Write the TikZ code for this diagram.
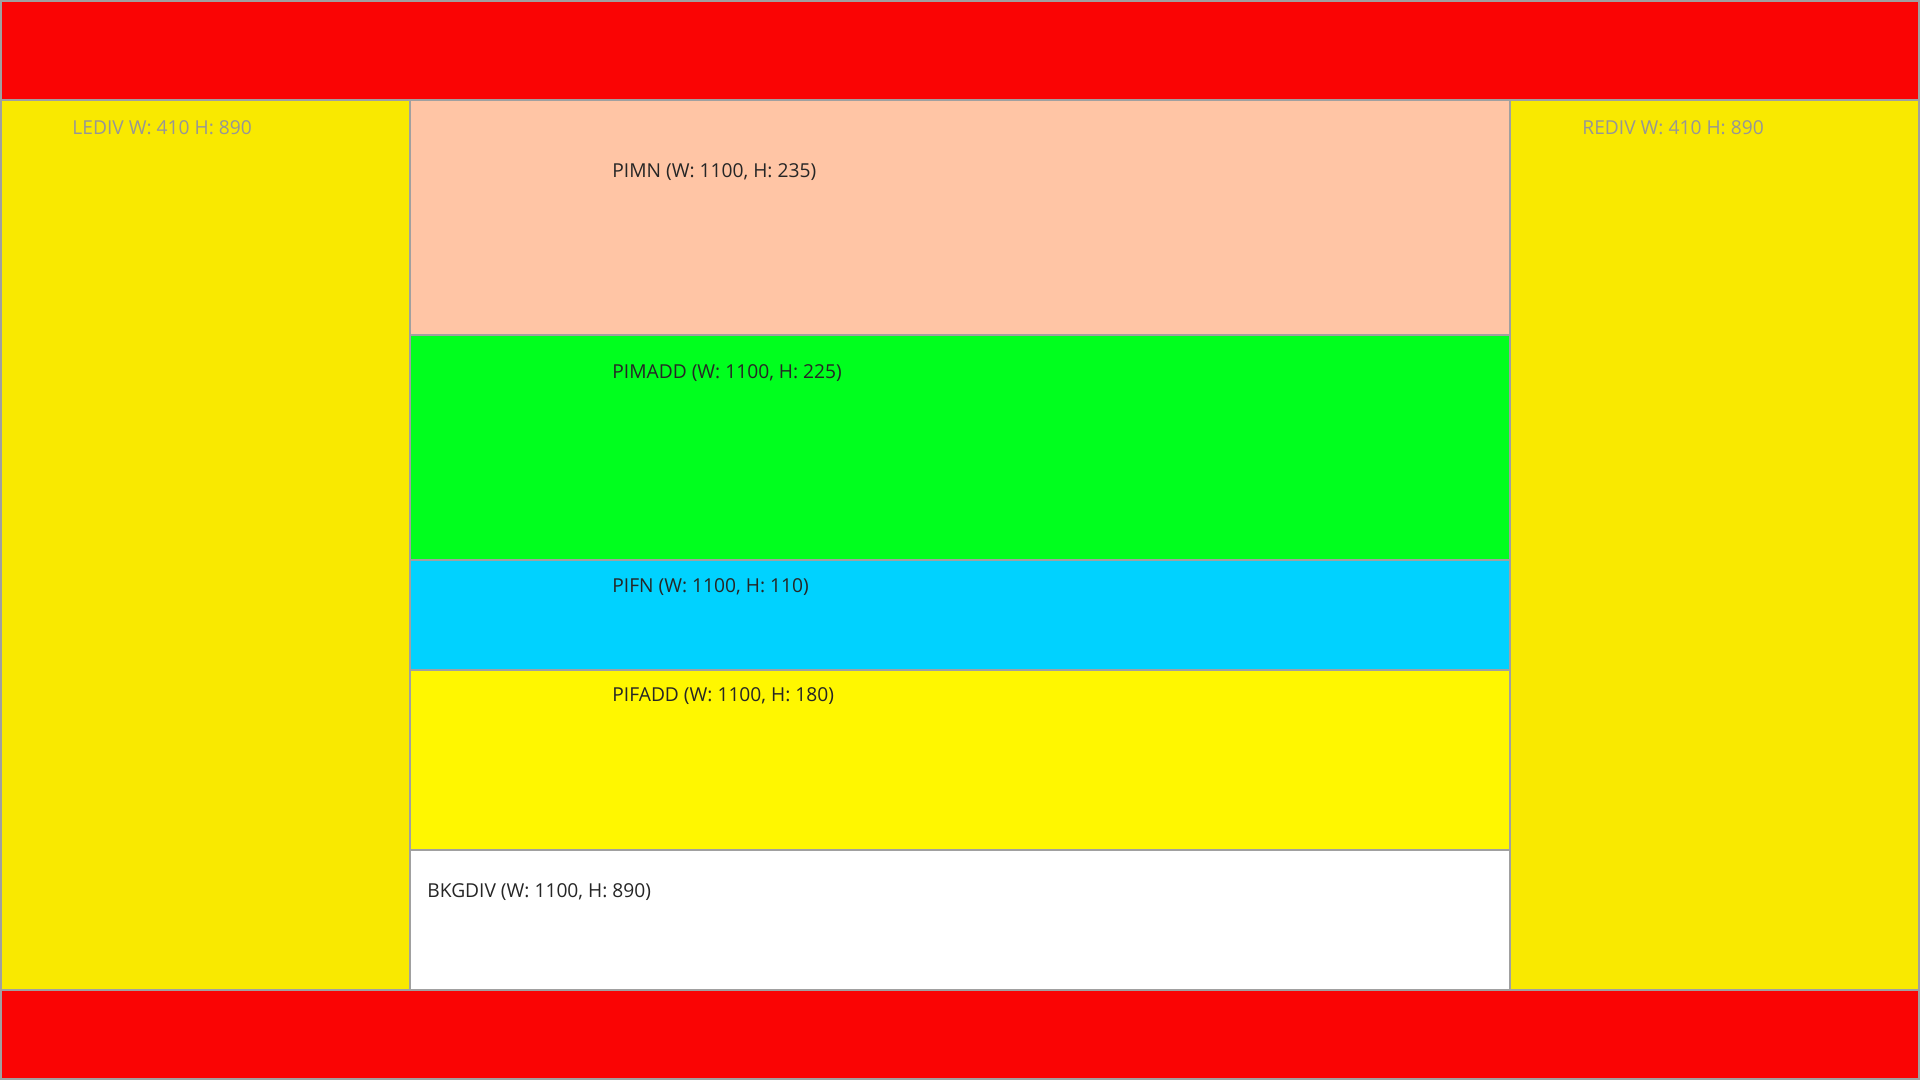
\documentclass[tikz,border=0pt]{standalone}
\usepackage{fontspec}
\setmainfont{Open Sans}
\definecolor{bandred}{RGB}{250,4,4}
\definecolor{sideyellow}{RGB}{249,233,0}
\definecolor{addyellow}{RGB}{255,247,0}
\definecolor{peach}{RGB}{255,197,165}
\definecolor{brightgreen}{RGB}{0,255,30}
\definecolor{skycyan}{RGB}{0,210,255}
\definecolor{edgegrey}{RGB}{160,160,160}
\definecolor{labelgrey}{RGB}{150,150,150}
\begin{document}
\begin{tikzpicture}[x=0.5pt,y=-0.5pt,
  panel/.style={draw=edgegrey,line width=0.6pt},
  darklabel/.style={anchor=base west,inner sep=0pt,font=\fontsize{9.6pt}{11pt}\selectfont,text=black!85},
  greylabel/.style={anchor=base west,inner sep=0pt,font=\fontsize{9.6pt}{11pt}\selectfont,text=labelgrey}]
\useasboundingbox (0,0) rectangle (1920,1080);
% bands
\path[panel,fill=bandred] (1,1) rectangle (1919,100);
\path[panel,fill=bandred] (1,990) rectangle (1919,1079);
% side divs
\path[panel,fill=sideyellow] (1,100) rectangle (410,990);
\path[panel,fill=sideyellow] (1510,100) rectangle (1919,990);
% background div
\path[panel,fill=white] (410,100) rectangle (1510,990);
% inner panels
\path[panel,fill=peach] (410,100) rectangle (1510,335);
\path[panel,fill=brightgreen] (410,335) rectangle (1510,560);
\path[panel,fill=skycyan] (410,560) rectangle (1510,670);
\path[panel,fill=addyellow] (410,670) rectangle (1510,850);
% labels
\node[greylabel] (ledivlbl) at (72,134.5) {LEDIV W: 410 H: 890};
\node[greylabel] (redivlbl) at (1582,134.5) {REDIV W: 410 H: 890};
\node[darklabel] (pimnlbl) at (612,177.5) {PIMN (W: 1100, H: 235)};
\node[darklabel] (pimaddlbl) at (612,378.5) {PIMADD (W: 1100, H: 225)};
\node[darklabel] (pifnlbl) at (612,592.5) {PIFN (W: 1100, H: 110)};
\node[darklabel] (pifaddlbl) at (612,701.5) {PIFADD (W: 1100, H: 180)};
\node[darklabel] (bkgdivlbl) at (427,897.5) {BKGDIV (W: 1100, H: 890)};
\end{tikzpicture}
\end{document}
